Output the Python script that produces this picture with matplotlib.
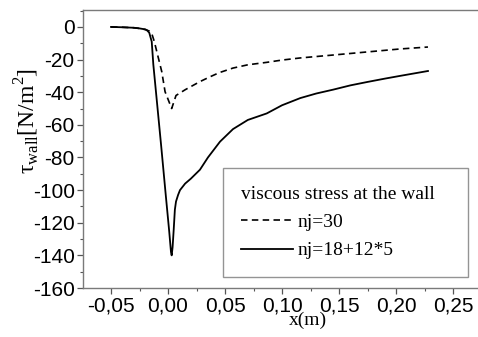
import matplotlib
matplotlib.use("Agg")
import matplotlib.pyplot as plt
from matplotlib.ticker import MultipleLocator, FuncFormatter

plt.rcParams['mathtext.fontset'] = 'custom'
plt.rcParams['mathtext.rm'] = 'Liberation Serif'
plt.rcParams['axes.unicode_minus'] = False

# nj=30 (dashed)
x_nj30 = [-0.05, -0.04, -0.03, -0.025, -0.02, -0.0165, -0.0143, -0.012, -0.0099,
          -0.0055, -0.0026, 0.0032, 0.007, 0.015, 0.028, 0.037, 0.045, 0.057,
          0.07, 0.0866, 0.1, 0.116, 0.145, 0.175, 0.2035, 0.228]
y_nj30 = [0, -0.2, -0.5, -0.9, -1.6, -2.5, -4, -9, -15,
          -27.4, -39.7, -50, -42, -38.5, -33.5, -30.5, -28, -25.2,
          -23.2, -21.7, -20.3, -19, -17.2, -15.3, -13.5, -12.3]

# nj=18+12*5 (solid)
x_nj78 = [-0.05, -0.04, -0.03, -0.025, -0.02, -0.0187, -0.0165, -0.0143, -0.0129,
          -0.01, -0.006, -0.002, 0.001, 0.0026, 0.0032, 0.004, 0.005, 0.006,
          0.007, 0.0088, 0.0105, 0.015, 0.02, 0.028, 0.035, 0.0456, 0.057,
          0.07, 0.0866, 0.1, 0.116, 0.13, 0.145, 0.16, 0.175, 0.19, 0.2035, 0.228]
y_nj78 = [0, -0.2, -0.5, -0.9, -1.5, -1.9, -3.5, -9, -23,
          -44, -73, -103, -125, -138, -140, -135, -124, -112,
          -107, -103, -100, -96, -93, -87.5, -80, -70.3, -62.6,
          -57, -53, -48, -43.6, -40.8, -38.4, -35.8, -33.7, -31.7, -30, -27]

legend_title = "viscous stress at the wall"
labels = ["nj=30", "nj=18+12*5"]

fig = plt.figure(figsize=(4.78, 3.37), dpi=100)
ax = fig.add_axes([0.1736, 0.1454, 0.83, 0.825])

ax.plot(x_nj30, y_nj30, color='black', lw=1.2, linestyle=(0, (3.9, 2.6)), label=labels[0])
ax.plot(x_nj78, y_nj78, color='black', lw=1.3, label=labels[1])

ax.set_xlim(-0.0746, 0.2734)
ax.set_ylim(-160, 10.4)
ax.xaxis.set_major_locator(MultipleLocator(0.05))
ax.xaxis.set_minor_locator(MultipleLocator(0.025))
ax.yaxis.set_major_locator(MultipleLocator(20))
ax.yaxis.set_minor_locator(MultipleLocator(10))
ax.xaxis.set_major_formatter(FuncFormatter(lambda v, p: ("%.2f" % v).replace('.', ',').replace('-0,00', '0,00')))

for s in ax.spines.values():
    s.set_color('#7a7a7a')
    s.set_linewidth(1.0)
ax.tick_params(which='major', direction='out', length=4, width=0.9, color='#555555',
               labelsize=15, pad=2)
ax.tick_params(which='minor', direction='out', length=2.5, width=0.8, color='#555555')
for t in ax.get_xticklabels() + ax.get_yticklabels():
    t.set_fontfamily('Liberation Sans')

ax.set_xlabel("x(m)", fontfamily='Liberation Serif', fontsize=14)
ax.xaxis.label.set_va('center')
ax.xaxis.set_label_coords(0.567, -0.118)
ax.set_ylabel("τ$_{\\mathrm{wall}}$[N/m$^2$]", fontfamily='Liberation Serif', fontsize=17)
ax.yaxis.label.set_va('center')
ax.yaxis.set_label_coords(-0.141, 0.6)

leg = ax.legend(title=legend_title, loc='lower left',
                bbox_to_anchor=(0.354, 0.04, 0.616, 0.392), mode='expand',
                prop={'family': 'Liberation Serif', 'size': 14},
                title_fontproperties={'family': 'Liberation Serif', 'size': 14},
                alignment='left', fancybox=False, frameon=True,
                handlelength=2.7, handletextpad=0.2, labelspacing=0.55,
                borderpad=0.9, borderaxespad=0)
leg.get_frame().set_edgecolor('#7a7a7a')
leg.get_frame().set_linewidth(1.0)

fig.savefig("out.png", dpi=100)
